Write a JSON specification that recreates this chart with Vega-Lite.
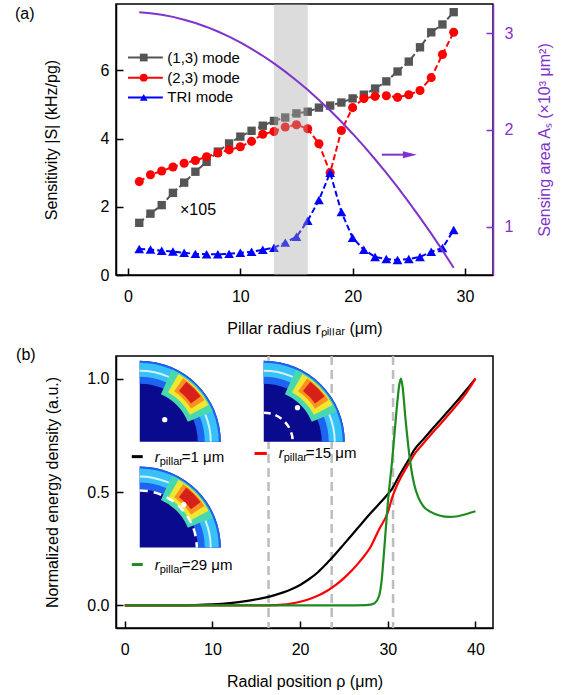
{
"$schema": "https://vega.github.io/schema/vega-lite/v6.json",
"padding": {"left": 14, "top": 3, "right": 5, "bottom": 5},
"spacing": 8,
"resolve": {"scale": {"color": "independent", "shape": "independent", "size": "independent"}},
"config": {
  "view": {"stroke": "black", "strokeWidth": 1.5},
  "font": "Liberation Sans",
  "text": {"font": "Liberation Sans"},
  "axis": {"labelFont": "Liberation Sans", "titleFont": "Liberation Sans", "labelFontSize": 16, "titleFontSize": 16, "titleFontWeight": "normal", "labelColor": "black", "titleColor": "black", "domainColor": "black", "tickColor": "black", "domainWidth": 1.5, "tickWidth": 1.5, "tickSize": -7, "grid": false},
  "axisX": {"labelPadding": 20},
  "axisY": {"labelPadding": 14}
},
"datasets": {
  "sens": [
    {"x":1,"y":1.53,"m":"(1,3) mode"},{"x":2,"y":1.8,"m":"(1,3) mode"},{"x":3,"y":2.05,"m":"(1,3) mode"},{"x":4,"y":2.41,"m":"(1,3) mode"},{"x":5,"y":2.71,"m":"(1,3) mode"},{"x":6,"y":3.03,"m":"(1,3) mode"},{"x":7,"y":3.32,"m":"(1,3) mode"},{"x":8,"y":3.62,"m":"(1,3) mode"},{"x":9,"y":3.86,"m":"(1,3) mode"},{"x":10,"y":4.06,"m":"(1,3) mode"},{"x":11,"y":4.23,"m":"(1,3) mode"},{"x":12,"y":4.38,"m":"(1,3) mode"},{"x":13,"y":4.52,"m":"(1,3) mode"},{"x":14,"y":4.62,"m":"(1,3) mode"},{"x":15,"y":4.74,"m":"(1,3) mode"},{"x":16,"y":4.79,"m":"(1,3) mode"},{"x":17,"y":4.91,"m":"(1,3) mode"},{"x":18,"y":4.97,"m":"(1,3) mode"},{"x":19,"y":5.06,"m":"(1,3) mode"},{"x":20,"y":5.18,"m":"(1,3) mode"},{"x":21,"y":5.29,"m":"(1,3) mode"},{"x":22,"y":5.47,"m":"(1,3) mode"},{"x":23,"y":5.68,"m":"(1,3) mode"},{"x":24,"y":5.97,"m":"(1,3) mode"},{"x":25,"y":6.26,"m":"(1,3) mode"},{"x":26,"y":6.68,"m":"(1,3) mode"},{"x":27,"y":7.12,"m":"(1,3) mode"},{"x":28,"y":7.35,"m":"(1,3) mode"},{"x":29,"y":7.71,"m":"(1,3) mode"},
    {"x":1,"y":2.74,"m":"(2,3) mode"},{"x":2,"y":2.94,"m":"(2,3) mode"},{"x":3,"y":3.05,"m":"(2,3) mode"},{"x":4,"y":3.17,"m":"(2,3) mode"},{"x":5,"y":3.28,"m":"(2,3) mode"},{"x":6,"y":3.36,"m":"(2,3) mode"},{"x":7,"y":3.47,"m":"(2,3) mode"},{"x":8,"y":3.58,"m":"(2,3) mode"},{"x":9,"y":3.67,"m":"(2,3) mode"},{"x":10,"y":3.76,"m":"(2,3) mode"},{"x":11,"y":3.92,"m":"(2,3) mode"},{"x":12,"y":4.13,"m":"(2,3) mode"},{"x":13,"y":4.21,"m":"(2,3) mode"},{"x":14,"y":4.34,"m":"(2,3) mode"},{"x":15,"y":4.41,"m":"(2,3) mode"},{"x":16,"y":4.29,"m":"(2,3) mode"},{"x":17,"y":3.85,"m":"(2,3) mode"},{"x":18,"y":3.0,"m":"(2,3) mode"},{"x":19,"y":4.24,"m":"(2,3) mode"},{"x":20,"y":4.91,"m":"(2,3) mode"},{"x":21,"y":5.18,"m":"(2,3) mode"},{"x":22,"y":5.24,"m":"(2,3) mode"},{"x":23,"y":5.26,"m":"(2,3) mode"},{"x":24,"y":5.21,"m":"(2,3) mode"},{"x":25,"y":5.29,"m":"(2,3) mode"},{"x":26,"y":5.41,"m":"(2,3) mode"},{"x":27,"y":5.79,"m":"(2,3) mode"},{"x":28,"y":6.47,"m":"(2,3) mode"},{"x":29,"y":7.12,"m":"(2,3) mode"},
    {"x":1,"y":0.76,"m":"TRI mode"},{"x":2,"y":0.75,"m":"TRI mode"},{"x":3,"y":0.71,"m":"TRI mode"},{"x":4,"y":0.69,"m":"TRI mode"},{"x":5,"y":0.65,"m":"TRI mode"},{"x":6,"y":0.62,"m":"TRI mode"},{"x":7,"y":0.61,"m":"TRI mode"},{"x":8,"y":0.61,"m":"TRI mode"},{"x":9,"y":0.62,"m":"TRI mode"},{"x":10,"y":0.65,"m":"TRI mode"},{"x":11,"y":0.68,"m":"TRI mode"},{"x":12,"y":0.74,"m":"TRI mode"},{"x":13,"y":0.8,"m":"TRI mode"},{"x":14,"y":0.95,"m":"TRI mode"},{"x":15,"y":1.12,"m":"TRI mode"},{"x":16,"y":1.59,"m":"TRI mode"},{"x":17,"y":2.2,"m":"TRI mode"},{"x":18,"y":3.0,"m":"TRI mode"},{"x":19,"y":1.85,"m":"TRI mode"},{"x":20,"y":1.09,"m":"TRI mode"},{"x":21,"y":0.74,"m":"TRI mode"},{"x":22,"y":0.53,"m":"TRI mode"},{"x":23,"y":0.47,"m":"TRI mode"},{"x":24,"y":0.44,"m":"TRI mode"},{"x":25,"y":0.47,"m":"TRI mode"},{"x":26,"y":0.53,"m":"TRI mode"},{"x":27,"y":0.68,"m":"TRI mode"},{"x":28,"y":0.79,"m":"TRI mode"},{"x":29,"y":1.32,"m":"TRI mode"}
  ],
  "area": [
    {"x":1,"a":3.214},{"x":2,"a":3.204},{"x":3,"a":3.189},{"x":4,"a":3.167},{"x":5,"a":3.138},{"x":6,"a":3.104},{"x":7,"a":3.063},{"x":8,"a":3.016},{"x":9,"a":2.963},{"x":10,"a":2.903},{"x":11,"a":2.837},{"x":12,"a":2.765},{"x":13,"a":2.686},{"x":14,"a":2.601},{"x":15,"a":2.51},{"x":16,"a":2.413},{"x":17,"a":2.309},{"x":18,"a":2.199},{"x":19,"a":2.083},{"x":20,"a":1.96},{"x":21,"a":1.831},{"x":22,"a":1.696},{"x":23,"a":1.555},{"x":24,"a":1.407},{"x":25,"a":1.253},{"x":26,"a":1.093},{"x":27,"a":0.927},{"x":28,"a":0.754},{"x":29,"a":0.575}
  ],
  "leg": [
    {"xl":0,"xl2":3.1,"xm":1.4,"xt":3.5,"y":6.38,"m":"(1,3) mode"},
    {"xl":0,"xl2":3.1,"xm":1.4,"xt":3.5,"y":5.79,"m":"(2,3) mode"},
    {"xl":0,"xl2":3.1,"xm":1.4,"xt":3.5,"y":5.21,"m":"TRI mode"}
  ],
  "energy": [
    {"x":0,"y":0,"r":"1"},{"x":2,"y":0,"r":"1"},{"x":4,"y":0,"r":"1"},{"x":6,"y":0,"r":"1"},{"x":8,"y":0.001,"r":"1"},{"x":10,"y":0.004,"r":"1"},{"x":12,"y":0.01,"r":"1"},{"x":14,"y":0.02,"r":"1"},{"x":16,"y":0.034,"r":"1"},{"x":17,"y":0.044,"r":"1"},{"x":18,"y":0.056,"r":"1"},{"x":19,"y":0.071,"r":"1"},{"x":20,"y":0.09,"r":"1"},{"x":21,"y":0.115,"r":"1"},{"x":22,"y":0.145,"r":"1"},{"x":23,"y":0.183,"r":"1"},{"x":24,"y":0.225,"r":"1"},{"x":25,"y":0.27,"r":"1"},{"x":26,"y":0.315,"r":"1"},{"x":27,"y":0.36,"r":"1"},{"x":28,"y":0.405,"r":"1"},{"x":29,"y":0.447,"r":"1"},{"x":30,"y":0.49,"r":"1"},{"x":30.5,"y":0.515,"r":"1"},{"x":31,"y":0.55,"r":"1"},{"x":31.5,"y":0.585,"r":"1"},{"x":32,"y":0.618,"r":"1"},{"x":32.5,"y":0.65,"r":"1"},{"x":33,"y":0.685,"r":"1"},{"x":34,"y":0.73,"r":"1"},{"x":35,"y":0.775,"r":"1"},{"x":36,"y":0.818,"r":"1"},{"x":37,"y":0.862,"r":"1"},{"x":38,"y":0.906,"r":"1"},{"x":39,"y":0.952,"r":"1"},{"x":40,"y":1.0,"r":"1"},
    {"x":0,"y":0,"r":"15"},{"x":4,"y":0,"r":"15"},{"x":8,"y":0,"r":"15"},{"x":12,"y":0,"r":"15"},{"x":16,"y":0,"r":"15"},{"x":17,"y":0.001,"r":"15"},{"x":18,"y":0.003,"r":"15"},{"x":19,"y":0.008,"r":"15"},{"x":20,"y":0.016,"r":"15"},{"x":21,"y":0.027,"r":"15"},{"x":22,"y":0.042,"r":"15"},{"x":23,"y":0.062,"r":"15"},{"x":24,"y":0.088,"r":"15"},{"x":25,"y":0.12,"r":"15"},{"x":26,"y":0.158,"r":"15"},{"x":27,"y":0.203,"r":"15"},{"x":28,"y":0.255,"r":"15"},{"x":29,"y":0.335,"r":"15"},{"x":30,"y":0.41,"r":"15"},{"x":30.5,"y":0.475,"r":"15"},{"x":31,"y":0.525,"r":"15"},{"x":31.5,"y":0.565,"r":"15"},{"x":32,"y":0.6,"r":"15"},{"x":32.5,"y":0.632,"r":"15"},{"x":33,"y":0.665,"r":"15"},{"x":34,"y":0.712,"r":"15"},{"x":35,"y":0.757,"r":"15"},{"x":36,"y":0.8,"r":"15"},{"x":37,"y":0.845,"r":"15"},{"x":38,"y":0.89,"r":"15"},{"x":39,"y":0.94,"r":"15"},{"x":40,"y":1.0,"r":"15"},
    {"x":0,"y":0,"r":"29"},{"x":5,"y":0,"r":"29"},{"x":10,"y":0,"r":"29"},{"x":15,"y":0,"r":"29"},{"x":20,"y":0,"r":"29"},{"x":25,"y":0,"r":"29"},{"x":27.5,"y":0.001,"r":"29"},{"x":28,"y":0.003,"r":"29"},{"x":28.5,"y":0.01,"r":"29"},{"x":29,"y":0.04,"r":"29"},{"x":29.3,"y":0.11,"r":"29"},{"x":29.6,"y":0.25,"r":"29"},{"x":30,"y":0.45,"r":"29"},{"x":30.5,"y":0.64,"r":"29"},{"x":31,"y":0.86,"r":"29"},{"x":31.3,"y":0.97,"r":"29"},{"x":31.5,"y":1.0,"r":"29"},{"x":31.7,"y":0.96,"r":"29"},{"x":32,"y":0.83,"r":"29"},{"x":32.5,"y":0.65,"r":"29"},{"x":33,"y":0.535,"r":"29"},{"x":33.5,"y":0.475,"r":"29"},{"x":34,"y":0.44,"r":"29"},{"x":35,"y":0.41,"r":"29"},{"x":36,"y":0.395,"r":"29"},{"x":37,"y":0.39,"r":"29"},{"x":38,"y":0.393,"r":"29"},{"x":39,"y":0.403,"r":"29"},{"x":40,"y":0.415,"r":"29"}
  ],
  "insets": [{"cx":1.71,"cy":0.722,"k":"a"},{"cx":15.85,"cy":0.722,"k":"b"},{"cx":1.71,"cy":0.255,"k":"c"}],
  "eleg": [
    {"x":0.8,"x2":2.05,"y":0.656,"tx":3.42,"r":"1","lab":"=1 μm"},
    {"x":14.8,"x2":16.2,"y":0.67,"tx":17.56,"r":"15","lab":"=15 μm"},
    {"x":0.8,"x2":2.05,"y":0.18,"tx":3.42,"r":"29","lab":"=29 μm"}
  ]
},
"vconcat": [
  {
    "width": 377, "height": 271,
    "resolve": {"scale": {"y": "independent"}},
    "layer": [
      {
        "layer": [
          {
            "data": {"name": "sens"},
            "mark": {"type": "line", "strokeWidth": 2, "strokeDash": [6, 3]},
            "encoding": {
              "x": {"field": "x", "type": "quantitative", "scale": {"domain": [-1.07, 32.5], "nice": false, "zero": false},
                    "axis": {"values": [0, 10, 20, 30], "title": "Pillar radius rₚᵢₗₗₐᵣ (μm)", "titlePadding": 16, "labelPadding": 20}},
              "y": {"field": "y", "type": "quantitative", "scale": {"domain": [0, 7.95], "nice": false},
                    "axis": {"values": [0, 2, 4, 6], "title": "Sensitivity |S| (kHz/pg)", "titlePadding": 41}},
              "color": {"field": "m", "type": "nominal", "scale": {"domain": ["(1,3) mode", "(2,3) mode", "TRI mode"], "range": ["#555555", "#ff0000", "#0000ff"]}, "legend": null}
            }
          },
          {
            "data": {"name": "sens"},
            "mark": {"type": "point", "filled": true, "opacity": 1},
            "encoding": {
              "x": {"field": "x", "type": "quantitative"},
              "y": {"field": "y", "type": "quantitative"},
              "color": {"field": "m", "type": "nominal", "legend": null},
              "shape": {"field": "m", "type": "nominal", "scale": {"domain": ["(1,3) mode", "(2,3) mode", "TRI mode"], "range": ["square", "circle", "triangle-up"]}, "legend": null},
              "size": {"field": "m", "type": "nominal", "scale": {"domain": ["(1,3) mode", "(2,3) mode", "TRI mode"], "range": [70, 95, 80]}, "legend": null}
            }
          },
          {
            "data": {"values": [{"x": 13, "x2": 16}]},
            "mark": {"type": "rect", "color": "#a8a8a8", "opacity": 0.4},
            "encoding": {
              "x": {"field": "x", "type": "quantitative"},
              "x2": {"field": "x2"}
            }
          },
          {
            "data": {"name": "leg"},
            "mark": {"type": "rule", "strokeWidth": 2},
            "encoding": {
              "x": {"field": "xl", "type": "quantitative"},
              "x2": {"field": "xl2"},
              "y": {"field": "y", "type": "quantitative"},
              "color": {"field": "m", "type": "nominal", "legend": null}
            }
          },
          {
            "data": {"name": "leg"},
            "mark": {"type": "point", "filled": true, "opacity": 1, "size": 60},
            "encoding": {
              "x": {"field": "xm", "type": "quantitative"},
              "y": {"field": "y", "type": "quantitative"},
              "color": {"field": "m", "type": "nominal", "legend": null},
              "shape": {"field": "m", "type": "nominal", "legend": null}
            }
          },
          {
            "data": {"name": "leg"},
            "mark": {"type": "text", "align": "left", "baseline": "middle", "fontSize": 15, "color": "black"},
            "encoding": {
              "x": {"field": "xt", "type": "quantitative"},
              "y": {"field": "y", "type": "quantitative"},
              "text": {"field": "m"}
            }
          },
          {
            "data": {"values": [{"x": 4.63, "y": 1.91, "t": "×105"}, {"x": -10.06, "y": 7.65, "t": "(a)"}]},
            "mark": {"type": "text", "align": "left", "baseline": "middle", "fontSize": 16, "color": "black"},
            "encoding": {
              "x": {"field": "x", "type": "quantitative"},
              "y": {"field": "y", "type": "quantitative"},
              "text": {"field": "t"}
            }
          },
          {
            "data": {"values": [{"x": 22.6, "x2": 24.8, "y": 3.53}]},
            "mark": {"type": "rule", "strokeWidth": 2, "color": "#8033cc"},
            "encoding": {
              "x": {"field": "x", "type": "quantitative"},
              "x2": {"field": "x2"},
              "y": {"field": "y", "type": "quantitative"}
            }
          },
          {
            "data": {"values": [{"x": 25.1, "y": 3.53}]},
            "mark": {"type": "point", "filled": true, "opacity": 1, "color": "#8033cc", "shape": "M-1,-0.5L1,0L-1,0.5Z", "size": 196},
            "encoding": {
              "x": {"field": "x", "type": "quantitative"},
              "y": {"field": "y", "type": "quantitative"}
            }
          }
        ]
      },
      {
        "data": {"name": "area"},
        "mark": {"type": "line", "color": "#8033cc", "strokeWidth": 2},
        "encoding": {
          "x": {"field": "x", "type": "quantitative"},
          "y": {"field": "a", "type": "quantitative", "scale": {"domain": [0.5, 3.3], "nice": false, "zero": false},
                "axis": {"orient": "right", "values": [1, 2, 3], "title": "Sensing area Aₛ (×10³ μm²)", "titleAngle": 270, "titleBaseline": "top", "titlePadding": 24, "domainColor": "#8033cc", "tickColor": "#8033cc", "labelColor": "#8033cc", "titleColor": "#8033cc", "labelPadding": 18}}
        }
      }
    ]
  },
  {
    "width": 377, "height": 272,
    "layer": [
      {
        "data": {"values": [{"x": 16.4}, {"x": 23.6}, {"x": 30.6}]},
        "mark": {"type": "rule", "color": "#bdbdbd", "strokeWidth": 2.5, "strokeDash": [9, 5]},
        "encoding": {
          "x": {"field": "x", "type": "quantitative"}
        }
      },
      {
        "data": {"name": "energy"},
        "mark": {"type": "line", "strokeWidth": 2.2, "interpolate": "monotone"},
        "encoding": {
          "x": {"field": "x", "type": "quantitative", "scale": {"domain": [-1, 42], "nice": false, "zero": false},
                "axis": {"values": [0, 10, 20, 30, 40], "title": "Radial position ρ (μm)", "titlePadding": 16, "labelPadding": 20}},
          "y": {"field": "y", "type": "quantitative", "scale": {"domain": [-0.1, 1.1], "nice": false, "zero": false},
                "axis": {"values": [0, 0.5, 1], "format": ".1f", "title": "Normalized energy density (a.u.)", "titlePadding": 26}},
          "color": {"field": "r", "type": "nominal", "scale": {"domain": ["1", "15", "29"], "range": ["#000000", "#ff0000", "#1f8a1f"]}, "legend": null}
        }
      },
      {
        "data": {"name": "insets"},
        "mark": {"type": "arc", "theta": 0, "theta2": 1.5708, "radius": 81, "radius2": 0, "color": "#0a0a8f"},
        "encoding": {"x": {"field": "cx", "type": "quantitative"}, "y": {"field": "cy", "type": "quantitative"}}
      },
      {
        "data": {"name": "insets"},
        "mark": {"type": "arc", "theta": 0, "theta2": 1.5708, "radius": 81, "radius2": 58, "color": "#1e64f0"},
        "encoding": {"x": {"field": "cx", "type": "quantitative"}, "y": {"field": "cy", "type": "quantitative"}}
      },
      {
        "data": {"name": "insets"},
        "mark": {"type": "arc", "theta": 0, "theta2": 1.5708, "radius": 79, "radius2": 65, "color": "#38c0f8"},
        "encoding": {"x": {"field": "cx", "type": "quantitative"}, "y": {"field": "cy", "type": "quantitative"}}
      },
      {
        "data": {"name": "insets"},
        "mark": {"type": "arc", "theta": 0, "theta2": 1.5708, "radius": 72, "radius2": 70, "color": "#d0f4ff"},
        "encoding": {"x": {"field": "cx", "type": "quantitative"}, "y": {"field": "cy", "type": "quantitative"}}
      },
      {
        "data": {"name": "insets"},
        "mark": {"type": "arc", "theta": 0.42, "theta2": 1.18, "radius": 79, "radius2": 52, "color": "#48d8b0"},
        "encoding": {"x": {"field": "cx", "type": "quantitative"}, "y": {"field": "cy", "type": "quantitative"}}
      },
      {
        "data": {"name": "insets"},
        "mark": {"type": "arc", "theta": 0.52, "theta2": 1.08, "radius": 78, "radius2": 57, "color": "#f0e830"},
        "encoding": {"x": {"field": "cx", "type": "quantitative"}, "y": {"field": "cy", "type": "quantitative"}}
      },
      {
        "data": {"name": "insets"},
        "mark": {"type": "arc", "theta": 0.6, "theta2": 1.0, "radius": 77, "radius2": 61, "color": "#ff9020"},
        "encoding": {"x": {"field": "cx", "type": "quantitative"}, "y": {"field": "cy", "type": "quantitative"}}
      },
      {
        "data": {"name": "insets"},
        "mark": {"type": "arc", "theta": 0.66, "theta2": 0.93, "radius": 76, "radius2": 64, "color": "#d8201a"},
        "encoding": {"x": {"field": "cx", "type": "quantitative"}, "y": {"field": "cy", "type": "quantitative"}}
      },
      {
        "data": {"name": "insets"},
        "transform": [{"filter": "datum.k == 'b'"}],
        "mark": {"type": "point", "filled": false, "opacity": 1, "stroke": "white", "strokeWidth": 2.5, "strokeDash": [7, 5], "shape": "M0,-1A1,1 0 0,1 1,0", "size": 3364},
        "encoding": {"x": {"field": "cx", "type": "quantitative"}, "y": {"field": "cy", "type": "quantitative"}}
      },
      {
        "data": {"name": "insets"},
        "transform": [{"filter": "datum.k == 'c'"}],
        "mark": {"type": "point", "filled": false, "opacity": 1, "stroke": "white", "strokeWidth": 2.5, "strokeDash": [8, 6], "shape": "M0,-1A1,1 0 0,1 1,0", "size": 12996},
        "encoding": {"x": {"field": "cx", "type": "quantitative"}, "y": {"field": "cy", "type": "quantitative"}}
      },
      {
        "data": {"values": [{"x": 4.56, "y": 0.819}, {"x": 19.7, "y": 0.872}, {"x": 6.73, "y": 0.444}]},
        "mark": {"type": "point", "filled": true, "opacity": 1, "color": "white", "size": 28},
        "encoding": {"x": {"field": "x", "type": "quantitative"}, "y": {"field": "y", "type": "quantitative"}}
      },
      {
        "data": {"name": "eleg"},
        "mark": {"type": "rule", "strokeWidth": 3},
        "encoding": {
          "x": {"field": "x", "type": "quantitative"},
          "x2": {"field": "x2"},
          "y": {"field": "y", "type": "quantitative"},
          "color": {"field": "r", "type": "nominal", "legend": null}
        }
      },
      {
        "data": {"name": "eleg"},
        "mark": {"type": "text", "align": "left", "baseline": "middle", "fontSize": 15, "fontStyle": "italic", "color": "black", "text": "r"},
        "encoding": {"x": {"field": "tx", "type": "quantitative"}, "y": {"field": "y", "type": "quantitative"}}
      },
      {
        "data": {"name": "eleg"},
        "mark": {"type": "text", "align": "left", "baseline": "middle", "fontSize": 11, "color": "black", "text": "pillar", "dx": 5, "dy": 5},
        "encoding": {"x": {"field": "tx", "type": "quantitative"}, "y": {"field": "y", "type": "quantitative"}}
      },
      {
        "data": {"name": "eleg"},
        "mark": {"type": "text", "align": "left", "baseline": "middle", "fontSize": 15, "color": "black", "dx": 27},
        "encoding": {"x": {"field": "tx", "type": "quantitative"}, "y": {"field": "y", "type": "quantitative"}, "text": {"field": "lab"}}
      },
      {
        "data": {"values": [{"x": -12.4, "y": 1.106, "t": "(b)"}]},
        "mark": {"type": "text", "align": "left", "baseline": "middle", "fontSize": 16, "color": "black"},
        "encoding": {"x": {"field": "x", "type": "quantitative"}, "y": {"field": "y", "type": "quantitative"}, "text": {"field": "t"}}
      }
    ]
  }
]
}
